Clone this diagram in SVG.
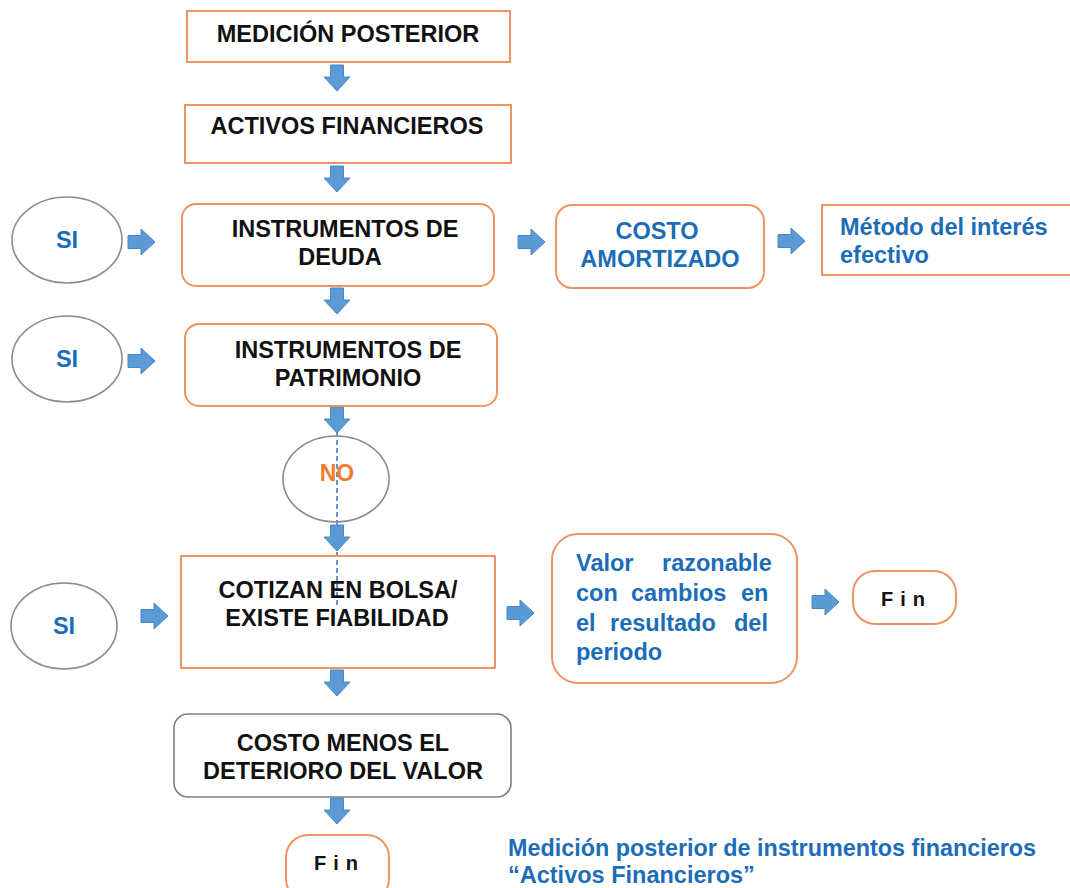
<svg xmlns="http://www.w3.org/2000/svg" xmlns:xlink="http://www.w3.org/1999/xlink" width="1070" height="888" viewBox="0 0 1070 888">
  <style>
    .box { fill: #ffffff; stroke: #EE9460; stroke-width: 2; }
    .gbox { fill: #ffffff; stroke: #7f7f7f; stroke-width: 1.6; }
    .oval { fill: #ffffff; stroke: #8c8c8c; stroke-width: 1.6; }
    .arr { fill: #5B9BD5; stroke: #4A88C6; stroke-width: 1; }
    .t { font-family: "Liberation Sans", Arial, sans-serif; font-weight: bold; font-size: 23.5px; fill: #111111; text-anchor: middle; }
    .b { font-family: "Liberation Sans", Arial, sans-serif; font-weight: bold; font-size: 23.5px; fill: #1B6DB8; }
    .c { text-anchor: middle; }
    .fin { font-family: "Liberation Sans", Arial, sans-serif; font-weight: bold; font-size: 20px; fill: #111111; letter-spacing: 7px; }
    .no { font-family: "Liberation Sans", Arial, sans-serif; font-weight: bold; font-size: 23px; fill: #ED7D31; text-anchor: middle; }
  </style>
  <defs>
    <!-- block arrows: down and right, origin at tail centre -->
    <path id="down" d="M -6.5 0 H 6.5 V 12 H 13 L 0 26 L -13 12 H -6.5 Z"/>
    <path id="right" d="M 0 -6.5 V 6.5 H 13 V 13 L 27 0 L 13 -13 V -6.5 Z"/>
  </defs>
  <rect width="1070" height="888" fill="#ffffff"/>

  <!-- connectors -->
  <g id="connectors">
    <line x1="337" y1="408" x2="337" y2="606" stroke="#3F6FC4" stroke-width="1.5" stroke-dasharray="5 3"/>
    <use xlink:href="#down" class="arr" x="337" y="65"/>
    <use xlink:href="#down" class="arr" x="337" y="166"/>
    <use xlink:href="#down" class="arr" x="337" y="288"/>
    <use xlink:href="#down" class="arr" x="337" y="407"/>
    <use xlink:href="#down" class="arr" x="337" y="525"/>
    <use xlink:href="#down" class="arr" x="337" y="670"/>
    <use xlink:href="#down" class="arr" x="337" y="798"/>
    <use xlink:href="#right" class="arr" x="128" y="242"/>
    <use xlink:href="#right" class="arr" x="128" y="361"/>
    <use xlink:href="#right" class="arr" x="141" y="616"/>
    <use xlink:href="#right" class="arr" x="518" y="242"/>
    <use xlink:href="#right" class="arr" x="778" y="241"/>
    <use xlink:href="#right" class="arr" x="507" y="613"/>
    <use xlink:href="#right" class="arr" x="812" y="602"/>
  </g>

  <g id="medicion-posterior">
    <rect class="box" x="187" y="11" width="323" height="51"/>
    <text class="t" x="348" y="42">MEDICIÓN POSTERIOR</text>
  </g>

  <g id="activos-financieros">
    <rect class="box" x="185" y="105" width="326" height="58"/>
    <text class="t" x="347" y="134">ACTIVOS FINANCIEROS</text>
  </g>

  <g id="si-deuda">
    <ellipse class="oval" cx="67" cy="240" rx="55" ry="43"/>
    <text class="b c" x="67" y="248">SI</text>
  </g>

  <g id="instrumentos-deuda">
    <rect class="box" x="182" y="204" width="312" height="82" rx="14"/>
    <text class="t" x="345" y="237">INSTRUMENTOS DE</text>
    <text class="t" x="340" y="265">DEUDA</text>
  </g>

  <g id="costo-amortizado">
    <rect class="box" x="556" y="205" width="208" height="83" rx="16"/>
    <text class="b c" x="657" y="239">COSTO</text>
    <text class="b c" x="660" y="267">AMORTIZADO</text>
  </g>

  <g id="metodo-interes">
    <rect class="box" x="822" y="205" width="252" height="70"/>
    <text class="b" x="840" y="235">Método del interés</text>
    <text class="b" x="840" y="263">efectivo</text>
  </g>

  <g id="si-patrimonio">
    <ellipse class="oval" cx="67" cy="359" rx="55" ry="43"/>
    <text class="b c" x="67" y="367">SI</text>
  </g>

  <g id="instrumentos-patrimonio">
    <rect class="box" x="185" y="324" width="312" height="82" rx="14"/>
    <text class="t" x="348" y="358">INSTRUMENTOS DE</text>
    <text class="t" x="348" y="386">PATRIMONIO</text>
  </g>

  <g id="no">
    <ellipse class="oval" cx="336" cy="479" rx="53" ry="43" style="fill:none"/>
    <text class="no" x="337" y="481">NO</text>
  </g>

  <g id="si-bolsa">
    <ellipse class="oval" cx="64" cy="626" rx="53" ry="43"/>
    <text class="b c" x="64" y="634">SI</text>
  </g>

  <g id="cotizan-bolsa">
    <rect class="box" x="181" y="556" width="314" height="112" style="fill:none"/>
    <text class="t" x="338" y="598">COTIZAN EN BOLSA/</text>
    <text class="t" x="337" y="626">EXISTE FIABILIDAD</text>
  </g>

  <g id="valor-razonable">
    <rect class="box" x="552" y="534" width="245" height="149" rx="26"/>
    <text class="b"><tspan x="576" y="571">Valor</tspan><tspan x="662" y="571">razonable</tspan></text>
    <text class="b"><tspan x="576" y="601">con</tspan><tspan x="631" y="601">cambios</tspan><tspan x="741" y="601">en</tspan></text>
    <text class="b"><tspan x="576" y="631">el</tspan><tspan x="610" y="631">resultado</tspan><tspan x="734" y="631">del</tspan></text>
    <text class="b" x="576" y="660">periodo</text>
  </g>

  <g id="fin-1">
    <rect class="box" x="853" y="571" width="103" height="53" rx="22"/>
    <text class="fin" x="881" y="606">Fin</text>
  </g>

  <g id="costo-menos-deterioro">
    <rect class="gbox" x="174" y="714" width="337" height="83" rx="14"/>
    <text class="t" x="343" y="751">COSTO MENOS EL</text>
    <text class="t" x="343" y="779">DETERIORO DEL VALOR</text>
  </g>

  <g id="fin-2">
    <rect class="box" x="286" y="835" width="103" height="66" rx="22"/>
    <text class="fin" x="314" y="870">Fin</text>
  </g>

  <g id="titulo">
    <text class="b" x="508" y="856" textLength="528" lengthAdjust="spacingAndGlyphs">Medición posterior de instrumentos financieros</text>
    <text class="b" x="508" y="883">“Activos Financieros”</text>
  </g>
</svg>
